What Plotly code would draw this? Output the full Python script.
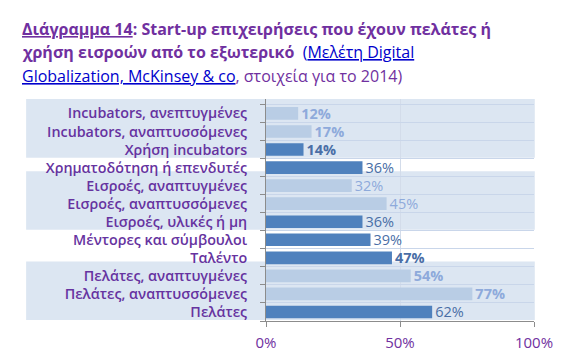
import plotly.graph_objects as go

categories = [
    "Incubators, ανεπτυγμένες",
    "Incubators, αναπτυσσόμενες",
    "Χρήση incubators",
    "Χρηματοδότηση ή επενδυτές",
    "Εισροές, αναπτυγμένες",
    "Εισροές, αναπτυσσόμενες",
    "Εισροές, υλικές ή μη",
    "Μέντορες και σύμβουλοι",
    "Ταλέντο",
    "Πελάτες, αναπτυγμένες",
    "Πελάτες, αναπτυσσόμενες",
    "Πελάτες",
]
values = [12, 17, 14, 36, 32, 45, 36, 39, 47, 54, 77, 62]
is_total = [False, False, True, True, False, False, True, True, True, False, False, True]
bold_label = [True, True, True, False, False, False, False, False, True, True, True, False]
x_ticks = [0, 50, 100]
x_ticklabels = ["0%", "50%", "100%"]
bands = [(0, 2), (4, 6), (9, 11)]

DARK = "#4f81bd"
LIGHT = "#b9cde5"
PURPLE = "#7030a0"

bar_colors = [DARK if t else LIGHT for t in is_total]
label_colors = ["#4a6ea6" if t else "#8eaadb" for t in is_total]
texts = [("<b>%d%%</b>" % v) if b else ("%d%%" % v) for v, b in zip(values, bold_label)]

fig = go.Figure()
fig.add_trace(go.Bar(
    y=categories, x=values, orientation="h",
    marker=dict(color=bar_colors, line=dict(width=0)),
    text=texts, textposition="outside", cliponaxis=False, constraintext="none",
    textfont=dict(size=14.5, color=label_colors, family="Open Sans"),
    hoverinfo="skip",
))

shapes = []
for a, b in bands:
    shapes.append(dict(type="rect", xref="paper", yref="y",
                       x0=-0.895, x1=1.003, y0=a - 0.8, y1=b + 0.45,
                       fillcolor="#dce6f2", line=dict(width=0), layer="below"))

fig.update_layout(
    width=580, height=356,
    margin=dict(l=258, r=54, t=91, b=32),
    paper_bgcolor="white", plot_bgcolor="rgba(0,0,0,0)",
    showlegend=False, bargap=0.3,
    shapes=shapes,
    font=dict(family="Open Sans", color=PURPLE),
)
fig.update_yaxes(
    categoryorder="array", categoryarray=categories, autorange="reversed",
    tickmode="array", tickvals=categories, ticktext=categories,
    tickson="boundaries", ticks="outside", ticklen=5, tickcolor="#8c8c8c",
    showline=True, linecolor="#8c8c8c", linewidth=1,
    showgrid=True, gridcolor="#c9d6ea", gridwidth=1,
    tickfont=dict(size=14.3, color="#6633a0", family="Open Sans", weight=650),
    ticklabelstandoff=15,
)
fig.update_xaxes(
    range=[0, 100], tickvals=x_ticks, ticktext=x_ticklabels,
    ticks="outside", ticklen=5, tickcolor="#8c8c8c",
    showline=True, linecolor="#8c8c8c", linewidth=1,
    showgrid=True, gridcolor="#d3dcea", zeroline=False,
    tickfont=dict(size=15, color=PURPLE, family="Open Sans"),
    ticklabelstandoff=3,
)

def px(x):
    return (x - 258) / 268.0

title_lines = [
    ("<b><u>Διάγραμμα 14</u>: Start-up επιχειρήσεις που έχουν πελάτες ή</b>", 18),
    ("<b>χρήση εισροών από το εξωτερικό</b>  <span style='color:#0000cc'>(<u>Μελέτη Digital</u></span>", 42),
    ("<span style='color:#0000cc'><u>Globalization, McKinsey &amp; co</u></span>, στοιχεία για το 2014)", 67),
]
for txt, ypx in title_lines:
    fig.add_annotation(
        text=txt, xref="paper", yref="paper",
        x=px(12), y=1 - (ypx - 91) / 233.0,
        xanchor="left", yanchor="middle", showarrow=False,
        font=dict(size=16, color=PURPLE, family="Open Sans"),
    )

fig.write_html("out.html")
